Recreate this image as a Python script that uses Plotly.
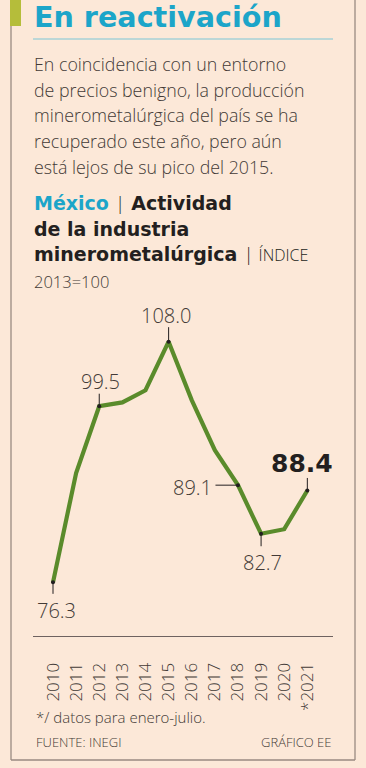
import plotly.graph_objects as go

# ---- data ----
years = [2010, 2011, 2012, 2013, 2014, 2015, 2016, 2017, 2018, 2019, 2020, 2021]
values = [76.3, 90.7, 99.5, 100.0, 101.6, 108.0, 100.3, 93.7, 89.1, 82.7, 83.3, 88.4]
tick_labels = ["2010", "2011", "2012", "2013", "2014", "2015", "2016", "2017",
               "2018", "2019", "2020", "*2021"]
labeled_years = [2010, 2012, 2015, 2018, 2019, 2021]

title = "En reactivación"
body_lines = [
    "En coincidencia con un entorno",
    "de precios benigno, la producción",
    "minerometalúrgica del país se ha",
    "recuperado este año, pero aún",
    "está lejos de su pico del 2015.",
]
note = "*/ datos para enero-julio."
source = "FUENTE: INEGI"
credit = "GRÁFICO EE"

W, H = 366, 768
BG = "#FCE8D8"
CYAN = "#1CA5C9"
GREEN = "#5A8B2B"
TXT = "#433A36"
DARK = "#231F20"
FRAME = "#9A8A82"
LIGHT = "Open Sans"
BOLD = "DejaVu Sans"


def px(x):
    return x / W


def py(y):
    return 1 - y / H


fig = go.Figure()
fig.add_trace(go.Scatter(x=years, y=values, mode="lines",
                         line=dict(color=GREEN, width=4.2), hoverinfo="skip"))
lab_vals = [values[years.index(y)] for y in labeled_years]
fig.add_trace(go.Scatter(x=labeled_years, y=lab_vals, mode="markers",
                         marker=dict(color=DARK, size=4), hoverinfo="skip"))

ann = []
shapes = []

# title
ann.append(dict(x=px(32), y=py(17), xref="paper", yref="paper", text="<b>%s</b>" % title,
                showarrow=False, xanchor="left", yanchor="middle",
                font=dict(family=BOLD, size=28.6, color=CYAN)))
# body
for i, line in enumerate(body_lines):
    ann.append(dict(x=px(32), y=py(64 + 25.7 * i), xref="paper", yref="paper",
                    text=line, showarrow=False, xanchor="left", yanchor="middle",
                    font=dict(family=LIGHT, size=17.8, color=TXT, weight=300)))

# subtitle
LSPAN = "<span style='font-family:%s;font-weight:300'>" % LIGHT
sub = [
    "<span style='color:%s'><b>México</b></span> %s|</span> <b>Actividad</b>" % (CYAN, LSPAN),
    "<b>de la industria</b>",
    "<b>minerometalúrgica</b> %s| <span style='font-size:16px'>ÍNDICE</span></span>" % LSPAN,
]
for i, line in enumerate(sub):
    ann.append(dict(x=px(32), y=py(203 + 25.5 * i), xref="paper", yref="paper",
                    text=line, showarrow=False, xanchor="left", yanchor="middle",
                    font=dict(family=BOLD, size=19, color=DARK)))
ann.append(dict(x=px(32), y=py(281), xref="paper", yref="paper", text="2013=100",
                showarrow=False, xanchor="left", yanchor="middle",
                font=dict(family=LIGHT, size=16.5, color=TXT, weight=300)))

# point labels: (dx, dy) pixel offsets of label centre, leader (ax, ay)
label_pos = {
    2010: (3, -28, 0, 13),
    2012: (1, 25, 0, -14),
    2015: (-3, 26, 0, -16),
    2018: (-45, -2, -24, 0),
    2019: (1, -29, 0, 14),
    2021: (-5, 27, 0, -14),
}
for yr, v in zip(labeled_years, lab_vals):
    dx, dy, ax, ay = label_pos[yr]
    bold = yr == 2021
    ann.append(dict(x=yr, y=v, xref="x", yref="y", text="", showarrow=True,
                    arrowhead=0, arrowwidth=1, arrowcolor=DARK, ax=ax, ay=ay,
                    standoff=0, startstandoff=0))
    if bold:
        ann.append(dict(x=yr, y=v, xref="x", yref="y", text="<b>%.1f</b>" % v,
                        showarrow=False, xanchor="center", yanchor="middle",
                        xshift=dx, yshift=dy,
                        font=dict(family=BOLD, size=25, color=DARK)))
    else:
        ann.append(dict(x=yr, y=v, xref="x", yref="y", text="%.1f" % v,
                        showarrow=False, xanchor="center", yanchor="middle",
                        xshift=dx, yshift=dy,
                        font=dict(family=LIGHT, size=20, color=TXT, weight=300)))

# footer
ann.append(dict(x=px(34), y=py(717), xref="paper", yref="paper", text=note,
                showarrow=False, xanchor="left", yanchor="middle",
                font=dict(family=LIGHT, size=15, color=TXT, weight=300)))
ann.append(dict(x=px(34), y=py(742), xref="paper", yref="paper", text=source,
                showarrow=False, xanchor="left", yanchor="middle",
                font=dict(family=LIGHT, size=13, color=TXT, weight=300)))
ann.append(dict(x=px(333), y=py(742), xref="paper", yref="paper", text=credit,
                showarrow=False, xanchor="right", yanchor="middle",
                font=dict(family=LIGHT, size=13, color=TXT, weight=300)))

# frame & decorations
shapes.append(dict(type="rect", xref="paper", yref="paper", x0=px(10), x1=px(21),
                   y0=py(26), y1=py(0), fillcolor="#B5BD3A", line=dict(width=0)))
shapes.append(dict(type="line", xref="paper", yref="paper", x0=px(11), x1=px(11),
                   y0=py(26), y1=py(760), line=dict(color=FRAME, width=1.3)))
shapes.append(dict(type="line", xref="paper", yref="paper", x0=px(355), x1=px(355),
                   y0=py(0), y1=py(760), line=dict(color=FRAME, width=1.3)))
shapes.append(dict(type="line", xref="paper", yref="paper", x0=px(11), x1=px(355),
                   y0=py(760), y1=py(760), line=dict(color=FRAME, width=1.3)))
shapes.append(dict(type="line", xref="paper", yref="paper", x0=px(33), x1=px(333),
                   y0=py(39), y1=py(39), line=dict(color="#7CC6D6", width=1)))

fig.update_layout(
    width=W, height=H, autosize=False,
    margin=dict(l=0, r=0, t=0, b=0),
    paper_bgcolor=BG, plot_bgcolor=BG,
    showlegend=False,
    annotations=ann, shapes=shapes,
    xaxis=dict(domain=[px(33), px(333)], range=[2009.135, 2022.11],
               showgrid=False, zeroline=False, showline=True,
               linecolor="#6E6260", linewidth=1,
               tickvals=years, ticktext=tick_labels, tickangle=-90,
               ticks="", ticklabelstandoff=19,
               tickfont=dict(family=LIGHT, size=17, color=TXT, weight=300)),
    yaxis=dict(domain=[py(636), py(300)], range=[69.23, 113.49],
               showgrid=False, zeroline=False, showticklabels=False,
               showline=False),
)

fig.write_html("out.html", config={"displayModeBar": False, "staticPlot": True},
               post_script="document.body.style.margin='0';document.body.style.background='%s';" % BG)
